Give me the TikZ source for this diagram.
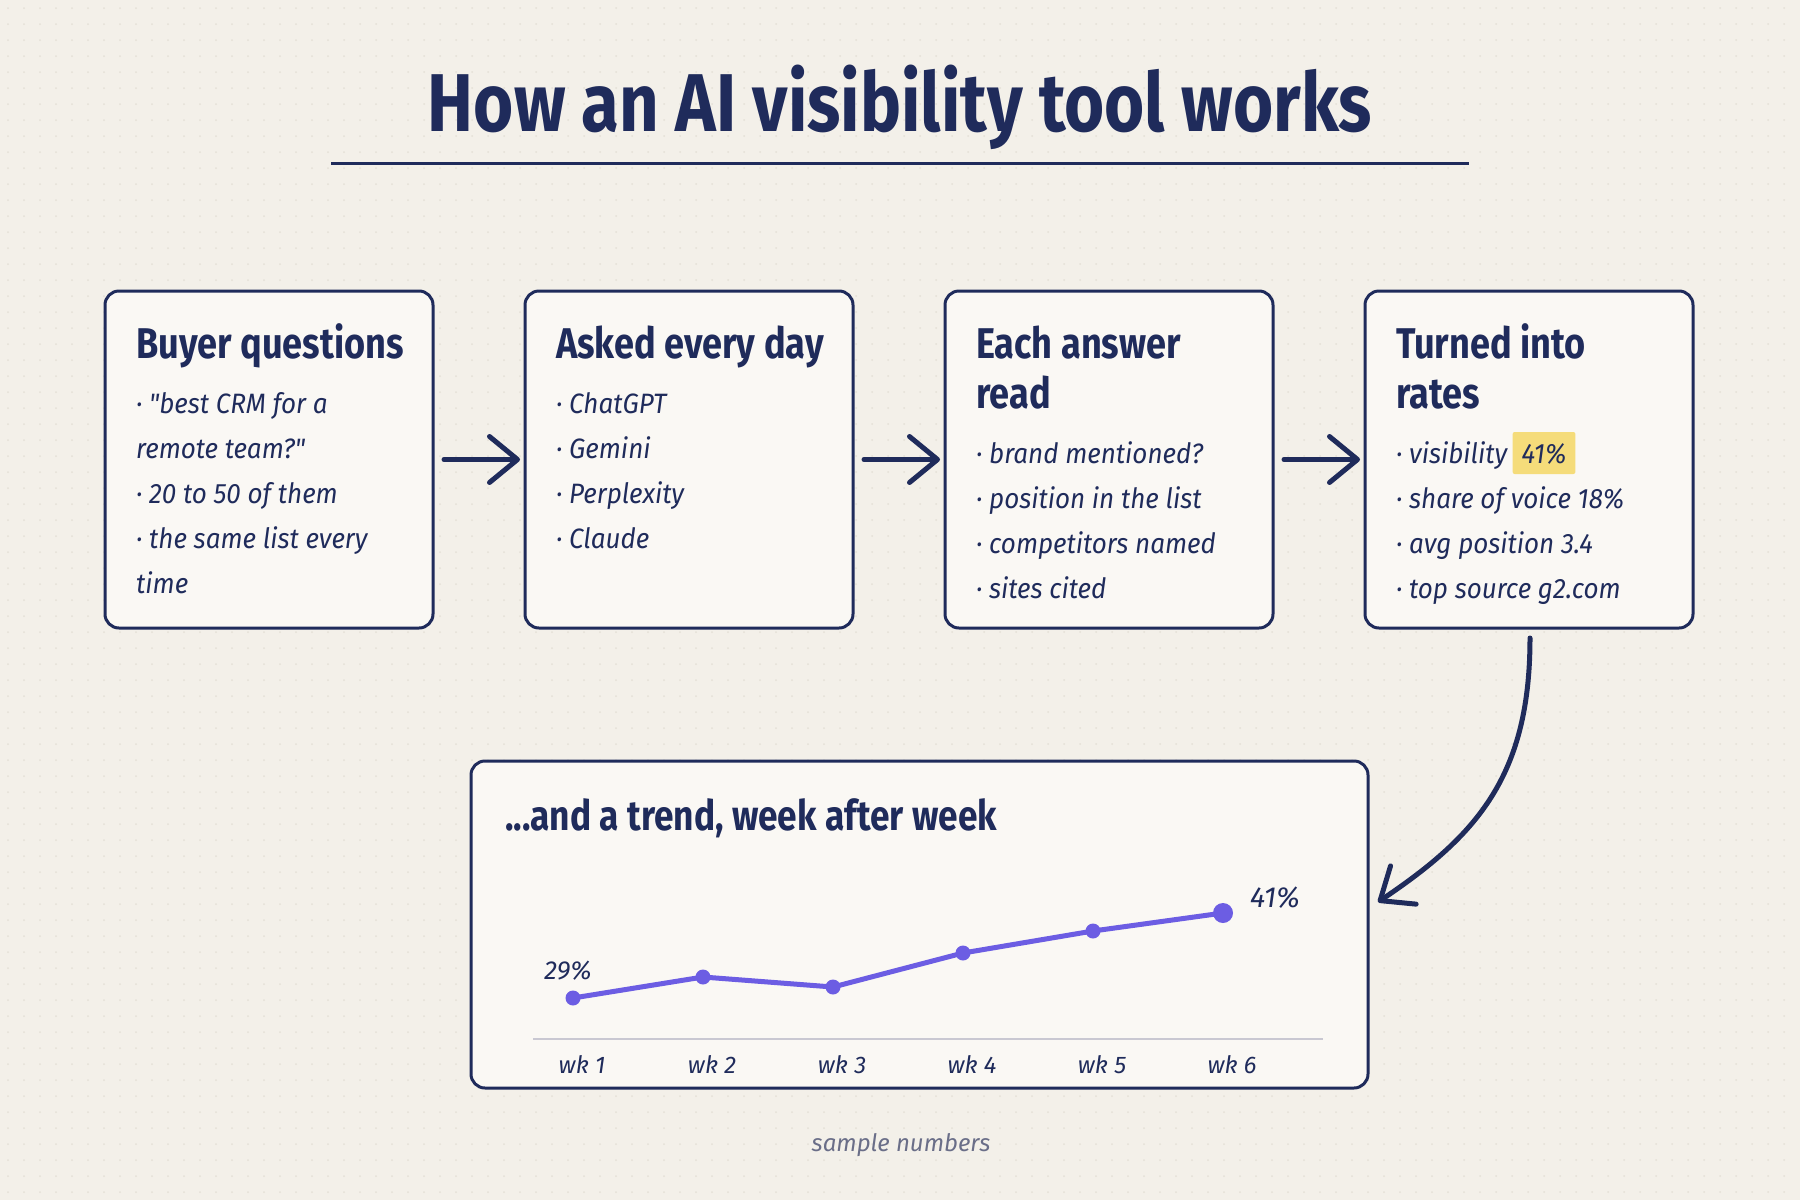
\documentclass[tikz,border=0pt]{standalone}
\usepackage{fontspec}
\setmainfont{Fira Sans}
\newfontfamily\handT{Fira Sans}[FakeStretch=0.84]
\newfontfamily\handB{Fira Sans}[FakeStretch=0.93]
\newfontfamily\handL{Fira Sans}[FakeStretch=1.0]
\usetikzlibrary{arrows.meta,calc}
\definecolor{navy}{HTML}{1F2B5B}
\definecolor{paper}{HTML}{F3F0E9}
\definecolor{cardbg}{HTML}{FAF8F4}
\definecolor{gridc}{HTML}{E4E0D7}
\definecolor{violet}{HTML}{6C5DE3}
\definecolor{hlc}{HTML}{F5DC7A}
\definecolor{axisc}{HTML}{C9C8D2}
\definecolor{muted}{HTML}{6A6E88}
\tikzset{
  card/.style={draw=navy, fill=cardbg, line width=3pt, rounded corners=14pt, outer sep=0pt, inner sep=0pt, anchor=north west},
  cardtitle/.style={anchor=base west, inner sep=0pt, text=navy, font=\handT\bfseries\fontsize{43}{50}\selectfont},
  item/.style={anchor=base west, inner sep=0pt, text=navy, font=\handB\itshape\fontsize{28}{32}\selectfont},
  flow/.style={draw=navy, line width=5pt, line cap=round, -{Straight Barb[length=28pt,width=46pt,round]}},
  trendline/.style={draw=violet, line width=5pt, line join=round},
  ptdot/.style={circle, fill=violet, inner sep=0pt, minimum size=15pt},
  bigdot/.style={circle, fill=violet, inner sep=0pt, minimum size=20pt},
  ptlabel/.style={inner sep=0pt, text=navy, font=\handL\itshape\fontsize{26}{30}\selectfont},
  wklabel/.style={anchor=base, inner sep=0pt, text=navy, font=\handL\itshape\fontsize{24}{28}\selectfont},
  hlbox/.style={anchor=base west, fill=hlc, rounded corners=2pt, inner xsep=9pt, inner ysep=0pt, text height=31pt, text depth=11pt, text=navy, font=\handB\itshape\fontsize{28}{32}\selectfont}
}
\begin{document}
\begin{tikzpicture}[x=1pt,y=-1pt]
\fill[paper] (0,0) rectangle (1800,1200);
\useasboundingbox (0,0) rectangle (1800,1200);
\foreach \yy in {8,24,...,1200}
  \draw[gridc, line width=2pt, line cap=round, dash pattern=on 0pt off 16pt] (8,\yy) -- (1800,\yy);

% title
\node[anchor=base, inner sep=0pt, text=navy, font=\handT\bfseries\fontsize{82}{90}\selectfont] (title) at (900,131) {How an AI visibility tool works};
\coordinate (ulA) at (331,163);
\coordinate (ulB) at (1469,163);
\draw[navy, line width=3pt] (ulA) -- (ulB);

% cards
\node[card, minimum width=328pt, minimum height=337pt] (b1) at (105,291) {};
\node[card, minimum width=328pt, minimum height=337pt] (b2) at (525,291) {};
\node[card, minimum width=328pt, minimum height=337pt] (b3) at (945,291) {};
\node[card, minimum width=328pt, minimum height=337pt] (b4) at (1365,291) {};

% card 1
\node[cardtitle] (t1) at (136,358) {Buyer questions};
\node[item] (i11) at (136,413) {· "best CRM for a};
\node[item] (i12) at (136,458) {remote team?"};
\node[item] (i13) at (136,503) {· 20 to 50 of them};
\node[item] (i14) at (136,548) {· the same list every};
\node[item] (i15) at (136,593) {time};

% card 2
\node[cardtitle] (t2) at (556,358) {Asked every day};
\node[item] (i21) at (556,413) {· ChatGPT};
\node[item] (i22) at (556,458) {· Gemini};
\node[item] (i23) at (556,503) {· Perplexity};
\node[item] (i24) at (556,548) {· Claude};

% card 3
\node[cardtitle] (t3a) at (976,358) {Each answer};
\node[cardtitle] (t3b) at (976,408) {read};
\node[item] (i31) at (976,463) {· brand mentioned?};
\node[item] (i32) at (976,508) {· position in the list};
\node[item] (i33) at (976,553) {· competitors named};
\node[item] (i34) at (976,598) {· sites cited};

% card 4
\node[cardtitle] (t4a) at (1396,358) {Turned into};
\node[cardtitle] (t4b) at (1396,408) {rates};
\node[item] (i41) at (1396,463) {· visibility};
\node[hlbox] (hl) at ($(i41.base east)+(5,0)$) {41\%};
\node[item] (i42) at (1396,508) {· share of voice 18\%};
\node[item] (i43) at (1396,553) {· avg position 3.4};
\node[item] (i44) at (1396,598) {· top source g2.com};

% flow arrows
\draw[flow] ([xshift=11pt]b1.east) -- ([xshift=-5pt]b2.west);
\draw[flow] ([xshift=11pt]b2.east) -- ([xshift=-5pt]b3.west);
\draw[flow] ([xshift=11pt]b3.east) -- ([xshift=-5pt]b4.west);

% trend card
\node[card, minimum width=897pt, minimum height=327pt] (tr) at (471,761) {};
\node[cardtitle, font=\handT\bfseries\fontsize{42}{50}\selectfont] (ttr) at (505,830) {...and a trend, week after week};

\coordinate (axA) at (533,1039);
\coordinate (axB) at (1323,1039);
\draw[axisc, line width=1.5pt] (axA) -- (axB);

\coordinate (p1) at (573,998);
\coordinate (p2) at (703,977);
\coordinate (p3) at (833,987);
\coordinate (p4) at (963,953);
\coordinate (p5) at (1093,931);
\coordinate (p6) at (1223,913);
\draw[trendline] (p1) -- (p2) -- (p3) -- (p4) -- (p5) -- (p6);
\node[ptdot] (d1) at (p1) {};
\node[ptdot] (d2) at (p2) {};
\node[ptdot] (d3) at (p3) {};
\node[ptdot] (d4) at (p4) {};
\node[ptdot] (d5) at (p5) {};
\node[bigdot] (d6) at (p6) {};
\node[ptlabel, anchor=base] (l1) at (568,979) {29\%};
\node[ptlabel, anchor=base west, font=\handL\itshape\fontsize{29}{32}\selectfont] (l6) at (1250,907) {41\%};

\node[wklabel] (w1) at (582,1073) {wk 1};
\node[wklabel] (w2) at (712,1073) {wk 2};
\node[wklabel] (w3) at (842,1073) {wk 3};
\node[wklabel] (w4) at (972,1073) {wk 4};
\node[wklabel] (w5) at (1102,1073) {wk 5};
\node[wklabel] (w6) at (1232,1073) {wk 6};

% curved arrow
\draw[flow] ($(b4.south)+(1,10)$) .. controls (1530,775) and (1478,835) .. ($(tr.north east)+(10,141)$);

\node[anchor=base, inner sep=0pt, text=muted, font=\handL\itshape\fontsize{24}{28}\selectfont] (note) at (901,1151) {sample numbers};
\end{tikzpicture}
\end{document}
